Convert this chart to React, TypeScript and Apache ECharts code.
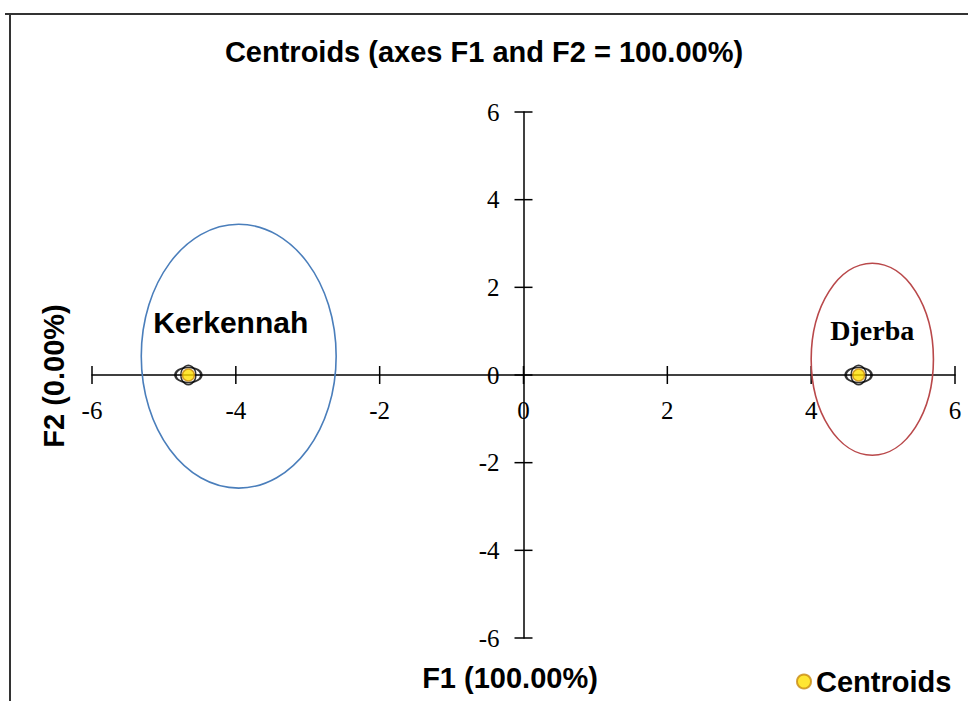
import React, { useEffect, useRef } from "react";
import * as echarts from "echarts";

const groups = ["Kerkennah", "Djerba"];
const centroidF1 = [-4.66, 4.66];
const centroidF2 = [0, 0];
const ellipseCenterF1 = [-3.96, 4.85];
const ellipseCenterF2 = [0.43, 0.36];
const ellipseRadiusF1 = [1.355, 0.85];
const ellipseRadiusF2 = [3.01, 2.19];
const axisTicks = [-6, -4, -2, 0, 2, 4, 6];

const ellipseColors = ["#4a7ebb", "#b9484a"];
const labelFonts = ["Liberation Sans", "Liberation Serif"];
const labelSizes = [30, 28];
const labelOffsets = [
  [-8, -34],
  [0, -29],
];

export default function App() {
  const ref = useRef<HTMLDivElement>(null);
  useEffect(() => {
    document.body.style.margin = "0";
    const chart = echarts.init(ref.current!, null, { renderer: "svg" });
    const centroidData = groups.map((g, i) => [centroidF1[i], centroidF2[i], g]);
    const ellipseData = groups.map((g, i) => [
      ellipseCenterF1[i],
      ellipseCenterF2[i],
      ellipseRadiusF1[i],
      ellipseRadiusF2[i],
      g,
    ]);
    const tickData: any[] = [];
    axisTicks.forEach((t) => tickData.push([t, 0, 0]));
    axisTicks.forEach((t) => tickData.push([0, t, 1]));

    const tickFont = {
      fontFamily: "Liberation Serif",
      fontSize: 25,
      fill: "#000",
    };

    const option: any = {
      animation: false,
      backgroundColor: "#fff",
      title: {
        text: "Centroids (axes F1 and F2 = 100.00%)",
        left: "center",
        top: 32,
        textStyle: {
          fontFamily: "Liberation Sans",
          fontWeight: "bold",
          fontSize: 29,
          color: "#000",
        },
      },
      legend: {
        data: ["Centroids"],
        left: 791,
        top: 662,
        itemWidth: 14,
        itemHeight: 14,
        itemGap: 6,
        icon: "circle",
        textStyle: {
          fontFamily: "Liberation Sans",
          fontWeight: "bold",
          fontSize: 29,
          color: "#000",
        },
      },
      grid: { left: 92, right: 13, top: 112, bottom: 63 },
      xAxis: {
        type: "value",
        min: -6,
        max: 6,
        interval: 2,
        axisLine: { onZero: true, lineStyle: { color: "#000", width: 1.5 } },
        axisTick: { show: false },
        splitLine: { show: false },
        axisLabel: { show: false },
      },
      yAxis: {
        type: "value",
        min: -6,
        max: 6,
        interval: 2,
        axisLine: { onZero: true, lineStyle: { color: "#000", width: 1.5 } },
        axisTick: { show: false },
        splitLine: { show: false },
        axisLabel: { show: false },
      },
      graphic: [
        {
          type: "line",
          shape: { x1: 5, y1: 14, x2: 968, y2: 14 },
          style: { stroke: "#333", lineWidth: 2 },
        },
        {
          type: "line",
          shape: { x1: 10, y1: 14, x2: 10, y2: 701 },
          style: { stroke: "#333", lineWidth: 2 },
        },
        {
          type: "text",
          x: 510,
          y: 678,
          style: {
            text: "F1 (100.00%)",
            fontFamily: "Liberation Sans",
            fontWeight: "bold",
            fontSize: 29,
            fill: "#000",
            textAlign: "center",
            textVerticalAlign: "middle",
          },
        },
        {
          type: "text",
          x: 54,
          y: 376,
          rotation: Math.PI / 2,
          style: {
            text: "F2 (0.00%)",
            fontFamily: "Liberation Sans",
            fontWeight: "bold",
            fontSize: 29,
            fill: "#000",
            textAlign: "center",
            textVerticalAlign: "middle",
          },
        },
      ],
      series: [
        {
          type: "custom",
          name: "ticks",
          silent: true,
          data: tickData,
          renderItem: (params: any, api: any) => {
            const c = api.coord([api.value(0), api.value(1)]);
            const horizontalAxis = api.value(2) === 0;
            const v = horizontalAxis ? api.value(0) : api.value(1);
            return {
              type: "group",
              children: [
                {
                  type: "line",
                  shape: horizontalAxis
                    ? { x1: c[0], y1: c[1] - 9, x2: c[0], y2: c[1] + 9 }
                    : { x1: c[0] - 9, y1: c[1], x2: c[0] + 9, y2: c[1] },
                  style: { stroke: "#000", lineWidth: 1.5 },
                },
                {
                  type: "text",
                  x: horizontalAxis ? c[0] : c[0] - 24,
                  y: horizontalAxis ? c[1] + 35 : c[1],
                  style: {
                    ...tickFont,
                    text: String(v),
                    textAlign: horizontalAxis ? "center" : "right",
                    textVerticalAlign: "middle",
                  },
                },
              ],
            };
          },
          z: 3,
        },
        {
          type: "custom",
          name: "ellipses",
          silent: true,
          data: ellipseData,
          renderItem: (params: any, api: any) => {
            const i = params.dataIndex;
            const c = api.coord([api.value(0), api.value(1)]);
            const s = api.size([api.value(2), api.value(3)]);
            return {
              type: "group",
              children: [
                {
                  type: "ellipse",
                  shape: { cx: c[0], cy: c[1], rx: s[0], ry: s[1] },
                  style: { fill: "none", stroke: ellipseColors[i], lineWidth: 1.6 },
                },
                {
                  type: "text",
                  x: c[0] + labelOffsets[i][0],
                  y: c[1] + labelOffsets[i][1],
                  style: {
                    text: groups[i],
                    fontFamily: labelFonts[i],
                    fontWeight: "bold",
                    fontSize: labelSizes[i],
                    fill: "#000",
                    textAlign: "center",
                    textVerticalAlign: "middle",
                  },
                },
              ],
            };
          },
          z: 4,
        },
        {
          type: "scatter",
          name: "obs1",
          data: centroidData,
          symbol: "circle",
          symbolSize: [26, 15],
          itemStyle: { color: "rgba(255,255,255,0)", borderColor: "#000", borderWidth: 2 },
          z: 5,
        },
        {
          type: "scatter",
          name: "obs2",
          data: centroidData,
          symbol: "circle",
          symbolSize: [15, 19],
          itemStyle: { color: "rgba(255,255,255,0)", borderColor: "#000", borderWidth: 1.6 },
          z: 5,
        },
        {
          type: "scatter",
          name: "Centroids",
          data: centroidData,
          symbol: "circle",
          symbolSize: 12,
          itemStyle: { color: "#ffe000", borderColor: "#c88a10", borderWidth: 1.5 },
          z: 6,
        },
      ],
    };
    chart.setOption(option);
    return () => chart.dispose();
  }, []);
  return <div ref={ref} style={{ width: 968, height: 701 }} />;
}
